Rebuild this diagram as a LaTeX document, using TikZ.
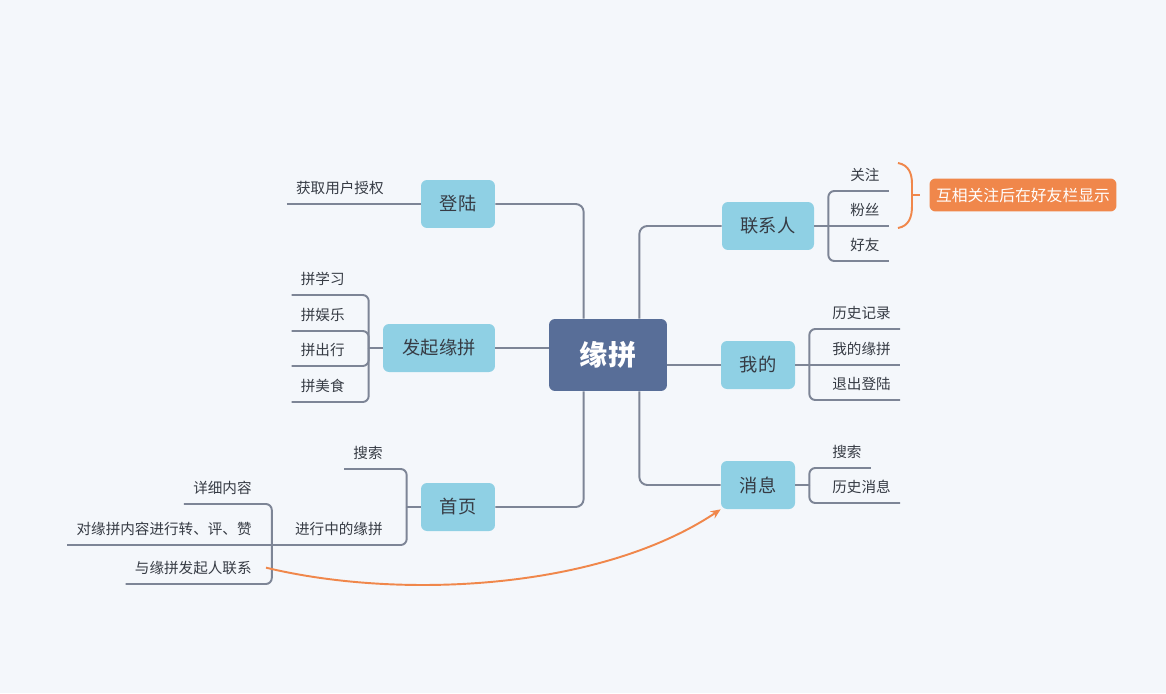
\documentclass[tikz,border=0pt]{standalone}
\usepackage{fontspec}
\setmainfont{Noto Sans CJK SC}
\usetikzlibrary{arrows.meta}

\definecolor{bgcol}{HTML}{F4F7FB}
\definecolor{rootcol}{HTML}{586E98}
\definecolor{topiccol}{HTML}{8FD0E4}
\definecolor{linecol}{HTML}{7D8596}
\definecolor{notecol}{HTML}{F0874B}
\definecolor{textcol}{HTML}{363B44}

\begin{document}
\begin{tikzpicture}[x=0.02cm, y=-0.02cm,
  root/.style={fill=rootcol, text=white, rounded corners=0.12cm, minimum width=2.36cm, minimum height=1.44cm, font=\fontsize{16pt}{18pt}\selectfont\bfseries},
  topic/.style={fill=topiccol, text=textcol, rounded corners=0.12cm, minimum width=1.48cm, minimum height=0.96cm, font=\fontsize{10.4pt}{12pt}\selectfont},
  leafL/.style={anchor=south east, text=textcol, inner xsep=0.18cm, inner ysep=0pt, minimum height=0.64cm, font=\fontsize{8.3pt}{10pt}\selectfont},
  leafR/.style={leafL, anchor=south west},
  link/.style={draw=linecol, line width=1.1pt, rounded corners=0.12cm},
  trunk/.style={link, rounded corners=0.16cm},
  note/.style={fill=notecol, text=white, rounded corners=0.12cm, minimum width=3.74cm, minimum height=0.66cm, font=\fontsize{9pt}{10pt}\selectfont},
  noteline/.style={draw=notecol, line width=1.1pt}
]
\fill[bgcol] (0,0) rectangle (1166,693);

% centre and main topics
\node[root] (root) at (608,355) {缘拼};
\node[topic] (login) at (458,204) {登陆};
\node[topic, minimum width=2.24cm] (launch) at (439,348) {发起缘拼};
\node[topic] (home) at (458,507) {首页};
\node[topic, minimum width=1.84cm] (contact) at (768,226) {联系人};
\node[topic] (mine) at (758,365) {我的};
\node[topic] (msg) at (758,485) {消息};

\draw[trunk] (login.east) -| ([xshift=0.7cm]root.north west);
\draw[trunk] (home.east) -| ([xshift=0.7cm]root.south west);
\draw[trunk] (contact.west) -| ([xshift=-0.56cm]root.north east);
\draw[trunk] (msg.west) -| ([xshift=-0.56cm]root.south east);
\draw[link] (launch.east) -- (launch.east -| root.west);
\draw[link] (mine.west) -- (mine.west -| root.east);

% left side
\node[leafL] (auth) at (393,204) {获取用户授权};
\draw[link] (auth.south west) -- (login.west);

\node[leafL] (learn) at (354,295) {拼学习};
\node[leafL] (play) at (354,331) {拼娱乐};
\node[leafL] (travel) at (354,366) {拼出行};
\node[leafL] (food) at (354,402) {拼美食};
\coordinate (launchFork) at ([xshift=-0.28cm]launch.west);
\draw[link] (launch.west) -- (launchFork);
\draw[link] (launchFork) |- (learn.south east) -- (learn.south west);
\draw[link] (launchFork) |- (play.south east) -- (play.south west);
\draw[link] (launchFork) |- (travel.south east) -- (travel.south west);
\draw[link] (launchFork) |- (food.south east) -- (food.south west);

\node[leafL] (search) at (392,469) {搜索};
\node[leafL] (ongoing) at (392,545) {进行中的缘拼};
\coordinate (homeFork) at ([xshift=-0.28cm]home.west);
\draw[link] (home.west) -- (homeFork);
\draw[link] (homeFork) |- (search.south east) -- (search.south west);
\draw[link] (homeFork) |- (ongoing.south east) -- (ongoing.south west);

\node[leafL] (detail) at (261,504) {详细内容};
\node[leafL] (share) at (261,545) {对缘拼内容进行转、评、赞};
\node[leafL] (reach) at (261,584) {与缘拼发起人联系};
\coordinate (ongoingFork) at ([xshift=-0.28cm]ongoing.south west);
\draw[link] (ongoingFork) |- (detail.south east) -- (detail.south west);
\draw[link] (ongoing.south west) -- (share.south west);
\draw[link] (ongoingFork) |- (reach.south east) -- (reach.south west);

% right side
\node[leafR] (follow) at (841,191) {关注};
\node[leafR] (fans) at (841,226) {粉丝};
\node[leafR] (friend) at (841,261) {好友};
\coordinate (contactFork) at ([xshift=0.28cm]contact.east);
\draw[link] (contact.east) -- (fans.south east);
\draw[link] (contactFork) |- (follow.south west) -- (follow.south east);
\draw[link] (contactFork) |- (friend.south west) -- (friend.south east);

\node[leafR] (history) at (823,329) {历史记录};
\node[leafR] (mypin) at (823,365) {我的缘拼};
\node[leafR] (logout) at (823,400) {退出登陆};
\coordinate (mineFork) at ([xshift=0.28cm]mine.east);
\draw[link] (mine.east) -- (mypin.south east);
\draw[link] (mineFork) |- (history.south west) -- (history.south east);
\draw[link] (mineFork) |- (logout.south west) -- (logout.south east);

\node[leafR] (msgsearch) at (823,468) {搜索};
\node[leafR] (msghist) at (823,503) {历史消息};
\coordinate (msgFork) at ([xshift=0.28cm]msg.east);
\draw[link] (msg.east) -- (msgFork);
\draw[link] (msgFork) |- (msgsearch.south west) -- (msgsearch.south east);
\draw[link] (msgFork) |- (msghist.south west) -- (msghist.south east);

% note and relation
\coordinate (braceTop) at (898,163);
\coordinate (braceBot) at (898,228);
\coordinate (braceTip) at (920,195);
\draw[noteline] (braceTop) .. controls (909,165) and (912,174) .. (912,184) -- (912,206) .. controls (912,217) and (909,226) .. (braceBot);
\draw[noteline] (912,195) -- (braceTip);
\node[note] (tip) at (1023,195) {互相关注后在好友栏显示};

\draw[noteline, -{Stealth[length=0.2cm, width=0.17cm]}] ([xshift=0.1cm]reach.east) .. controls (400,600) and (600,590) .. (msg.south west);

\end{tikzpicture}
\end{document}
